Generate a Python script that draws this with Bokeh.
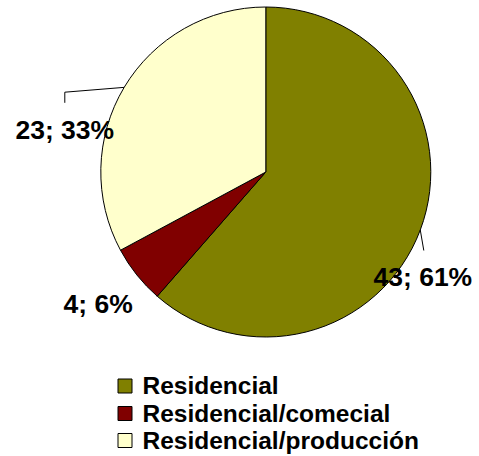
import numpy as np
from bokeh.plotting import figure
from bokeh.models import Range1d
from bokeh.core.properties import value
from bokeh.embed import file_html
from bokeh.resources import INLINE

# ---- data ----
categories = ["Residencial", "Residencial/comecial", "Residencial/producción"]
counts = [43, 4, 23]
colors = ["#808000", "#800000", "#FFFFCC"]

# ---- layout constants (screen pixels) ----
W, H = 479, 456
CX, CY, R = 265.3, 171.5, 165.0
FONT = "Liberation Sans"
TEXT_DY = -8.5  # baseline correction for text rendering

def sy(y):
    # screen y (down) -> data y (up)
    return H - y

p = figure(width=W, height=H, output_backend="svg", toolbar_location=None,
           x_range=Range1d(0, W), y_range=Range1d(0, H),
           x_axis_type=None, y_axis_type=None, min_border=0)
p.grid.visible = False
p.outline_line_color = None
p.background_fill_color = "white"
p.border_fill_color = "white"

vals = np.array(counts, dtype=float)
frac = vals / vals.sum()
cum_end = np.cumsum(frac)
cum_start = cum_end - frac
# clockwise from 12 o'clock
start_ang = np.pi / 2 - cum_end * 2 * np.pi
end_ang = np.pi / 2 - cum_start * 2 * np.pi

p.wedge(x=[CX] * len(vals), y=[sy(CY)] * len(vals), radius=R,
        start_angle=list(start_ang), end_angle=list(end_ang),
        fill_color=colors, line_color="black", line_width=1)

# label anchor points on the rim at mid angles
mid = (cum_start + cum_end) / 2 * 2 * np.pi  # clockwise from top
edge_x = CX + R * np.sin(mid)
edge_y = CY - R * np.cos(mid)  # screen coords

# per-label offsets (left / baseline) from rim point
offsets = [(-46.8, 55.5), (-73.3, 37.6), (-108.7, 51.0)]
labels = [f"{c}; {int(round(f * 100))}%" for c, f in zip(counts, frac)]
lx = [edge_x[i] + offsets[i][0] for i in range(3)]
ly = [sy(edge_y[i] + offsets[i][1] + TEXT_DY) for i in range(3)]

# leader lines
p.line([edge_x[0], 423.3], [sy(edge_y[0]), sy(250)], line_color="black", line_width=1)
p.line([edge_x[2], 64.3, 64.3], [sy(edge_y[2]), sy(91.7), sy(102.3)], line_color="black", line_width=1)

p.text(x=lx, y=ly, text=labels, text_font=value(FONT), text_font_style="bold",
       text_font_size="26.5px", text_align="left", text_baseline="alphabetic",
       text_color="black")

# legend
leg_cy = [385.5, 413.0, 440.0]
p.rect(x=[124.5] * 3, y=[sy(v) for v in leg_cy], width=14, height=14,
       fill_color=colors, line_color="black", line_width=1)
p.text(x=[142] * 3, y=[sy(v + 8 + TEXT_DY) for v in leg_cy], text=categories,
       text_font=value(FONT), text_font_style="bold", text_font_size="24.5px",
       text_align="left", text_baseline="alphabetic", text_color="black")

open("out.html", "w").write(file_html(p, INLINE))
